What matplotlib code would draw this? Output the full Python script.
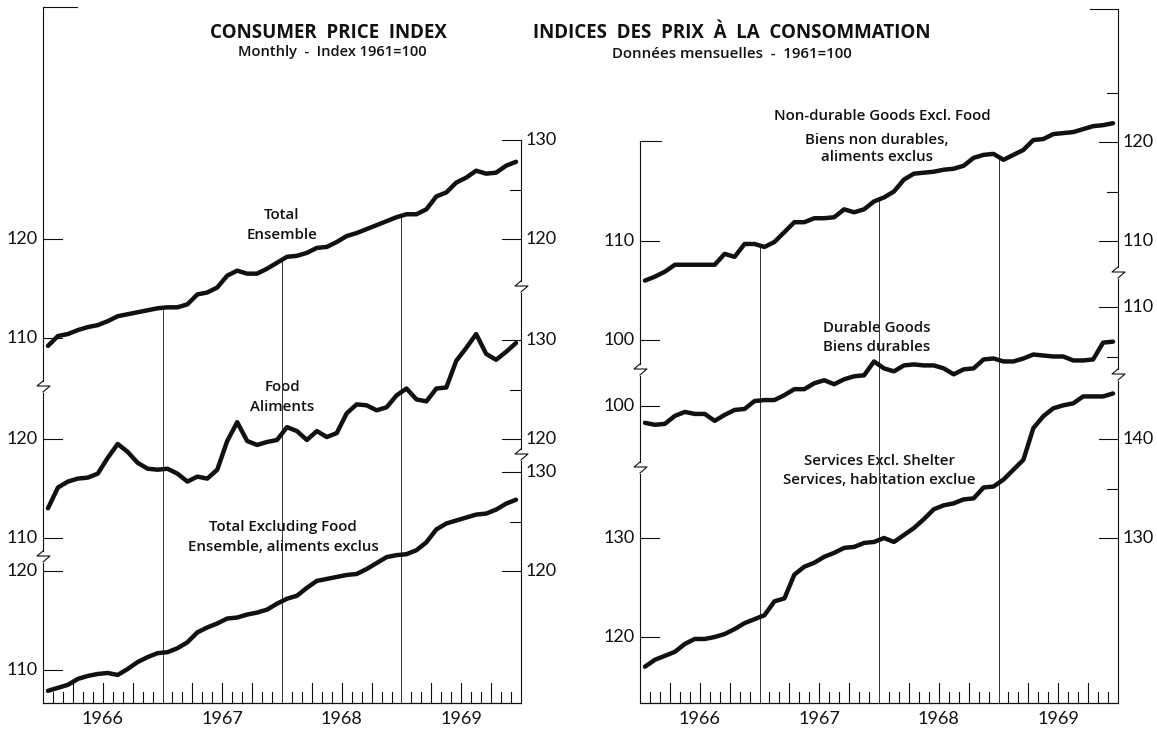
import numpy as np
import matplotlib
matplotlib.use("Agg")
import matplotlib.pyplot as plt
from matplotlib import transforms

# Consumer price index, monthly Jan 1966 - Dec 1969, 1961=100
years = ["1966", "1967", "1968", "1969"]
months = np.arange(48) + 0.5

total = [109.2, 110.2, 110.4, 110.8, 111.1, 111.3, 111.7, 112.2, 112.4, 112.6, 112.8, 113.0,
         113.1, 113.1, 113.4, 114.4, 114.6, 115.1, 116.3, 116.8, 116.5, 116.5, 117.0, 117.6,
         118.2, 118.3, 118.6, 119.1, 119.2, 119.7, 120.3, 120.6, 121.0, 121.4, 121.8, 122.2,
         122.5, 122.5, 123.0, 124.3, 124.7, 125.7, 126.2, 126.9, 126.6, 126.7, 127.4, 127.8]
food = [113.0, 115.1, 115.7, 116.0, 116.1, 116.5, 118.1, 119.5, 118.7, 117.6, 117.0, 116.9,
        117.0, 116.5, 115.7, 116.2, 116.0, 116.9, 119.8, 121.7, 119.8, 119.4, 119.7, 119.9,
        121.2, 120.8, 119.9, 120.8, 120.2, 120.6, 122.6, 123.5, 123.4, 122.9, 123.2, 124.4,
        125.1, 124.0, 123.8, 125.1, 125.2, 127.9, 129.2, 130.6, 128.6, 128.0, 128.8, 129.7]
total_ex_food = [107.9, 108.2, 108.5, 109.1, 109.4, 109.6, 109.7, 109.5, 110.1, 110.8, 111.3, 111.7,
                 111.8, 112.2, 112.8, 113.8, 114.3, 114.7, 115.2, 115.3, 115.6, 115.8, 116.1, 116.7,
                 117.2, 117.5, 118.3, 119.0, 119.2, 119.4, 119.6, 119.7, 120.2, 120.8, 121.4, 121.6,
                 121.7, 122.1, 122.9, 124.2, 124.8, 125.1, 125.4, 125.7, 125.8, 126.2, 126.8, 127.2]
nondurable = [106.0, 106.4, 106.9, 107.6, 107.6, 107.6, 107.6, 107.6, 108.7, 108.4, 109.7, 109.7,
              109.4, 109.9, 110.9, 111.9, 111.9, 112.3, 112.3, 112.4, 113.2, 112.9, 113.2, 114.0,
              114.4, 115.0, 116.2, 116.8, 116.9, 117.0, 117.2, 117.3, 117.6, 118.4, 118.7, 118.8,
              118.2, 118.7, 119.2, 120.2, 120.3, 120.8, 120.9, 121.0, 121.3, 121.6, 121.7, 121.9]
durable = [98.3, 98.1, 98.2, 99.0, 99.4, 99.2, 99.2, 98.5, 99.1, 99.6, 99.7, 100.5,
           100.6, 100.6, 101.1, 101.7, 101.7, 102.3, 102.6, 102.2, 102.7, 103.0, 103.1, 104.5,
           103.8, 103.5, 104.1, 104.2, 104.1, 104.1, 103.8, 103.2, 103.7, 103.8, 104.7, 104.8,
           104.5, 104.5, 104.8, 105.2, 105.1, 105.0, 105.0, 104.6, 104.6, 104.7, 106.4, 106.5]
services = [117.0, 117.7, 118.1, 118.5, 119.3, 119.8, 119.8, 120.0, 120.3, 120.8, 121.4, 121.8,
            122.2, 123.6, 123.9, 126.3, 127.1, 127.5, 128.1, 128.5, 129.0, 129.1, 129.5, 129.6,
            130.0, 129.6, 130.3, 131.0, 131.9, 132.9, 133.3, 133.5, 133.9, 134.0, 135.1, 135.2,
            135.9, 136.9, 137.9, 141.1, 142.3, 143.1, 143.4, 143.6, 144.3, 144.3, 144.3, 144.6]

# tick values: (left labelled, right labelled, right unlabelled)
total_ticks = ([120, 110], [130, 120], [125])
food_ticks = ([120, 110], [130, 120], [125])
ex_food_ticks = ([120, 110], [130, 120], [125])
nondur_ticks = ([110, 100], [120, 110], [125, 115])
durable_ticks = ([100], [110], [105])
services_ticks = ([130, 120], [140, 130], [135])

# ---------------- layout (pixels) ----------------
W, H = 1157, 732
TOP, BOT = 7, 703
PPU = 9.9          # pixels per index point
INK = "#111111"
NUMFONT = "Lato"
TXTFONT = "Open Sans"

fig = plt.figure(figsize=(W / 100, H / 100), dpi=100)
fig.patch.set_facecolor("white")

ov = fig.add_axes([0, 0, 1, 1])
ov.set_xlim(0, W)
ov.set_ylim(H, 0)
ov.axis("off")


def series_axes(x0, x1, anchor_val, anchor_y):
    ax = fig.add_axes([x0 / W, 1 - BOT / H, (x1 - x0) / W, (BOT - TOP) / H])
    ax.set_xlim(0, 48)
    ax.set_ylim(anchor_val - (BOT - anchor_y) / PPU, anchor_val + (anchor_y - TOP) / PPU)
    ax.axis("off")
    ax.patch.set_alpha(0)
    return ax


def draw_series(ax, x0, x1, data, ticks):
    wpx = x1 - x0
    tr = transforms.blended_transform_factory(ax.transAxes, ax.transData)
    ax.plot(months, data, color=INK, lw=3.2, solid_joinstyle="round",
            solid_capstyle="round", clip_on=False, zorder=5)
    left, right, minor = ticks
    for v in left:
        ax.plot([0, 19 / wpx], [v, v], color=INK, lw=0.8, transform=tr, clip_on=False)
        ax.text(-5 / wpx, v, str(v), transform=tr, ha="right", va="center",
                fontsize=13, family=NUMFONT, color=INK)
    for v in right:
        ax.plot([1 - 19 / wpx, 1], [v, v], color=INK, lw=0.8, transform=tr, clip_on=False)
        ax.text(1 + 5 / wpx, v, str(v), transform=tr, ha="left", va="center",
                fontsize=13, family=NUMFONT, color=INK)
    for v in minor:
        ax.plot([1 - 11 / wpx, 1], [v, v], color=INK, lw=0.8, transform=tr, clip_on=False)


def year_lines(ax, data):
    lo = ax.get_ylim()[0]
    for b in (12, 24, 36):
        ax.vlines(b, lo, np.interp(b, months, data), color="#333333", lw=0.7, zorder=1)


def bottom_axis(ax, x0, x1):
    hpx = BOT - TOP
    tr = transforms.blended_transform_factory(ax.transData, ax.transAxes)
    for k in range(1, 48):
        if k % 12 == 0:
            continue
        h = 20 if k % 3 == 0 else 11
        ax.plot([k, k], [0, h / hpx], color=INK, lw=0.8, transform=tr, clip_on=False)
    for i, yr in enumerate(years):
        ax.text(12 * i + 6, -16 / hpx, yr, transform=tr, ha="center", va="center",
                fontsize=13, family=NUMFONT, color=INK)
    ov.plot([x0, x1], [BOT, BOT], color=INK, lw=0.9)


def brk(x, y):
    ov.plot([x, x - 6, x + 7, x], [y - 6, y - 1, y - 1, y + 5], color=INK, lw=0.8)


def axis_line(x, y_top, y_bot, breaks):
    pts = [y_top] + breaks + [y_bot]
    for i in range(len(pts) - 1):
        a = pts[i] + (6 if i > 0 else 0)
        b = pts[i + 1] - (6 if i < len(pts) - 2 else 0)
        ov.plot([x, x], [a, b], color=INK, lw=0.8)
    for y in breaks:
        brk(x, y)


# ---------------- left panel ----------------
LX0, LX1 = 43, 521
ax_tot = series_axes(LX0, LX1, 120, 239)
ax_food = series_axes(LX0, LX1, 120, 439)
ax_exf = series_axes(LX0, LX1, 120, 571)
draw_series(ax_tot, LX0, LX1, total, total_ticks)
draw_series(ax_food, LX0, LX1, food, food_ticks)
draw_series(ax_exf, LX0, LX1, total_ex_food, ex_food_ticks)
year_lines(ax_tot, total)
bottom_axis(ax_exf, LX0, LX1)
axis_line(LX0, TOP, BOT, [387, 557])
ov.plot([LX0, LX0 + 34], [TOP, TOP], color=INK, lw=0.8)
axis_line(LX1, 140, BOT, [287, 455])

# ---------------- right panel ----------------
RX0, RX1 = 640, 1118
ax_nd = series_axes(RX0, RX1, 110, 241)
ax_du = series_axes(RX0, RX1, 100, 406)
ax_sv = series_axes(RX0, RX1, 130, 538)
draw_series(ax_nd, RX0, RX1, nondurable, nondur_ticks)
draw_series(ax_du, RX0, RX1, durable, durable_ticks)
draw_series(ax_sv, RX0, RX1, services, services_ticks)
year_lines(ax_nd, nondurable)
bottom_axis(ax_sv, RX0, RX1)
axis_line(RX0, 141, BOT, [370, 468])
ov.plot([RX0, RX0 + 21], [141, 141], color=INK, lw=0.8)
axis_line(RX1, 9, BOT, [273, 375])
ov.plot([RX1 - 28, RX1], [9, 9], color=INK, lw=0.8)

# ---------------- titles and labels ----------------
def label(x, y, s, size=10.8, weight="semibold"):
    ov.text(x, y, s, ha="center", va="center", fontsize=size, family=TXTFONT,
            fontweight=weight, color=INK)


label(328, 33, "CONSUMER  PRICE  INDEX", size=13.5, weight="bold")
label(332, 52, "Monthly  -  Index 1961=100", size=10.5)
label(732, 33, "INDICES  DES  PRIX  À  LA  CONSOMMATION", size=13.5, weight="bold")
label(732, 54, "Données mensuelles  -  1961=100", size=10.8)

label(282, 215, "Total")
label(282, 235, "Ensemble")
label(282, 387, "Food")
label(282, 407, "Aliments")
label(283, 527, "Total Excluding Food")
label(283, 547, "Ensemble, aliments exclus")

label(882, 116, "Non-durable Goods Excl. Food")
label(877, 140, "Biens non durables,")
label(877, 157, "aliments exclus")
label(877, 328, "Durable Goods")
label(877, 347, "Biens durables")
label(879, 461, "Services Excl. Shelter")
label(879, 480, "Services, habitation exclue")

fig.savefig("out.png", dpi=100)
